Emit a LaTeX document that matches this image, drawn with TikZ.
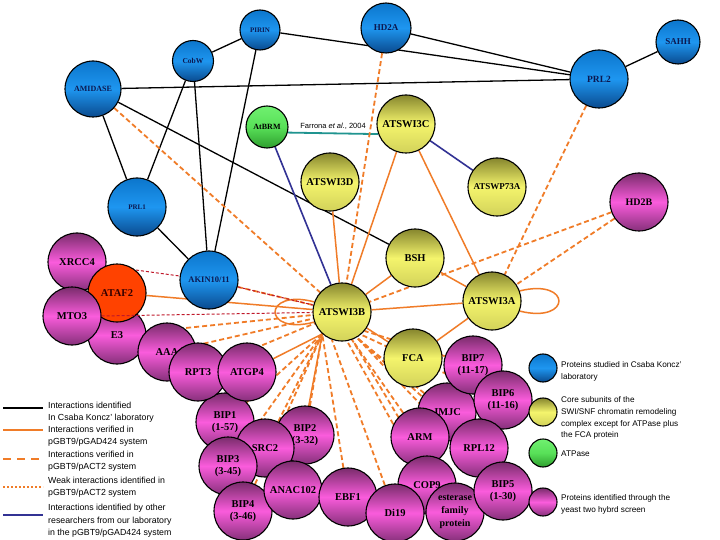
\documentclass[tikz,border=0pt]{standalone}
\usepackage{fontspec}
\setmainfont{Liberation Serif}
\setsansfont{Liberation Sans}
\usetikzlibrary{positioning}
\pgfdeclarelayer{bg}
\pgfsetlayers{bg,main}

\definecolor{btop}{HTML}{0C76CC}
\definecolor{bmid}{HTML}{1E96F0}
\definecolor{bbot}{HTML}{0A4A8E}
\definecolor{ytop}{HTML}{86862E}
\definecolor{ymid}{HTML}{F4F46C}
\definecolor{ybot}{HTML}{D2D25A}
\definecolor{ptop}{HTML}{7A2C6C}
\definecolor{pmid}{HTML}{FA5CDC}
\definecolor{pbot}{HTML}{86307A}
\definecolor{gtop}{HTML}{70F070}
\definecolor{gmid}{HTML}{58E058}
\definecolor{gbot}{HTML}{2E9E2E}
\definecolor{orng}{HTML}{F07C28}
\definecolor{redline}{HTML}{C0182A}
\definecolor{navyline}{HTML}{323294}
\definecolor{tealline}{HTML}{209490}
\definecolor{atafred}{HTML}{FF4200}
\definecolor{bluetext}{HTML}{0C1850}

\begin{document}
\begin{tikzpicture}[x=1pt,y=-1pt,
  prot/.style={circle,draw=black,line width=1.1pt,minimum size=58pt,inner sep=0pt,align=center,font=\bfseries\fontsize{10.5}{12.5}\selectfont},
  bnode/.style={prot,top color=btop,bottom color=bbot,middle color=bmid,text=bluetext},
  ynode/.style={prot,top color=ytop,bottom color=ybot,middle color=ymid},
  pnode/.style={prot,top color=ptop,bottom color=pbot,middle color=pmid},
  gnode/.style={prot,top color=gtop,bottom color=gbot,middle color=gmid},
  blk/.style={black,line width=1.3pt},
  osol/.style={orng,line width=1.5pt},
  odash/.style={orng,line width=1.8pt,dash pattern=on 5pt off 3pt},
  rdash/.style={redline,line width=1pt,dash pattern=on 3pt off 2pt},
  nline/.style={navyline,line width=1.6pt},
  tline/.style={tealline,line width=1.8pt},
  legtext/.style={font=\sffamily\fontsize{8.8}{12.4}\selectfont,align=left,anchor=west,inner sep=0pt},
  keytext/.style={legtext,font=\sffamily\fontsize{8.2}{11.8}\selectfont}]
\useasboundingbox (0,0) rectangle (720,540);

% blue proteins
\node[bnode,minimum size=40pt,font=\bfseries\fontsize{7}{8}\selectfont] (pirin) at (260,30) {PIRIN};
\node[bnode,minimum size=50pt,font=\bfseries\fontsize{9}{10}\selectfont] (hdtwoa) at (386,28) {HD2A};
\node[bnode,minimum size=44pt,font=\bfseries\fontsize{9}{10}\selectfont] (sahh) at (678,42) {SAHH};
\node[bnode,minimum size=41pt,font=\bfseries\fontsize{7.5}{8}\selectfont] (cobw) at (193,61) {CobW};
\node[bnode,font=\bfseries\fontsize{9.5}{10}\selectfont] (prltwo) at (599,79) {PRL2};
\node[bnode,minimum size=56pt,font=\bfseries\fontsize{8}{9}\selectfont] (amidase) at (93,89) {AMIDASE};
\node[bnode,font=\bfseries\fontsize{7}{8}\selectfont] (prlone) at (137,207) {PRL1};
\node[bnode,font=\bfseries\fontsize{8.5}{9}\selectfont] (akin) at (209,280) {AKIN10/11};

% atpase and swi/snf subunits
\node[gnode,minimum size=42pt,font=\bfseries\fontsize{8}{9}\selectfont] (atbrm) at (267,127) {AtBRM};
\node[ynode] (swithreec) at (406,124) {ATSWI3C};
\node[ynode] (swithreed) at (330,182) {ATSWI3D};
\node[ynode,font=\bfseries\fontsize{9}{10}\selectfont] (swpsev) at (497,187) {ATSWP73A};
\node[ynode] (bsh) at (415,258) {BSH};
\node[ynode] (swithreeb) at (342,312) {ATSWI3B};
\node[ynode] (swithreea) at (492,301) {ATSWI3A};
\node[ynode] (fca) at (413,358) {FCA};

% two hybrid proteins
\node[pnode,font=\bfseries\fontsize{10}{11}\selectfont] (hdtwob) at (639,202) {HD2B};
\node[pnode] (xrcc) at (77,262) {XRCC4};
\node[pnode] (ethree) at (117,335) {E3};
\node[prot,fill=atafred,text=black!80!red] (ataf) at (117,293) {ATAF2};
\node[pnode] (mto) at (72,316) {MTO3};
\node[pnode] (aaa) at (167,352) {AAA};
\node[pnode] (bipone) at (225,422) {BIP1\\(1-57)};
\node[pnode] (rpt) at (198,372) {RPT3};
\node[pnode] (atgp) at (247,372) {ATGP4};
\node[pnode] (biptwo) at (305,435) {BIP2\\(3-32)};
\node[pnode] (srctwo) at (265,448) {SRC2};
\node[pnode] (bipthree) at (228,466) {BIP3\\(3-45)};
\node[pnode] (bipfour) at (243,511) {BIP4\\(3-46)};
\node[pnode] (anac) at (293,490) {ANAC102};
\node[pnode] (ebf) at (348,497) {EBF1};
\node[pnode] (jmjc) at (447,412) {JMJC};
\node[pnode] (bipseven) at (473,365) {BIP7\\(11-17)};
\node[pnode] (bipsix) at (503,400) {BIP6\\(11-16)};
\node[pnode] (rpl) at (479,448) {RPL12};
\node[pnode] (arm) at (420,437) {ARM};
\node[pnode] (copnine) at (427,485) {COP9};
\node[pnode] (dinineteen) at (395,513) {Di19};
\node[pnode,font=\bfseries\fontsize{10}{13}\selectfont] (esterase) at (455,512) {esterase\\family\\protein};
\node[pnode] (bipfive) at (503,491) {BIP5\\(1-30)};

\draw[rdash] (mto.east) -- (swithreeb);

\begin{pgfonlayer}{bg}
\fill[white] (0,0) rectangle (720,540);
% black lines
\draw[blk] (pirin) -- (cobw);
\draw[blk] (pirin) -- (prltwo);
\draw[blk] (hdtwoa) -- (prltwo);
\draw[blk] (amidase) -- (prltwo);
\draw[blk] (sahh) -- (prltwo);
\draw[blk] (amidase) -- (prlone);
\draw[blk] (cobw) -- (prlone);
\draw[blk] (cobw) -- (akin);
\draw[blk] (pirin) -- (akin);
\draw[blk] (prlone) -- (akin);
\draw[blk] (amidase) -- (bsh);

% other labs
\draw[nline] (atbrm) -- (swithreeb);
\draw[nline] (swithreec) -- (swpsev);
\draw[tline] (atbrm.-15) -- node[above=-0.5pt,font=\sffamily\fontsize{7.5}{8}\selectfont,text=black] (farrona) {Farrona \textit{et al.}, 2004} (swithreec.200);

% pGBT9/pGAD424
\draw[osol] (swithreec) -- (swithreeb);
\draw[osol] (swithreec) -- (swithreea);
\draw[osol] (swithreed) -- (swithreeb);
\draw[osol] (swithreeb) -- (bsh);
\draw[osol] (swithreeb) -- (swithreea);
\draw[osol] (bsh) -- (swithreea);
\draw[osol] (swithreeb) -- (fca);
\draw[osol] (fca) -- (swithreea);
\draw[osol] (ataf) -- (swithreeb);
\draw[osol] (atgp) -- (swithreeb.228);
\draw[osol] (anac) -- (swithreeb.228);
\draw[osol] (swithreeb.160) .. controls (262,288) and (262,336) .. (swithreeb.200);
\draw[osol] (swithreea.20) .. controls (572,278) and (572,324) .. (swithreea.-20);

% pGBT9/pACT2
\draw[odash] (amidase) -- (swithreeb);
\draw[odash] (hdtwoa) -- (swithreeb);
\draw[odash] (prltwo) -- (swithreea);
\draw[odash] (hdtwob) -- (swithreea);
\draw[odash] (hdtwob) -- (swithreeb);
\draw[odash] (akin) -- (swithreeb);
\draw[odash] (ethree) -- (swithreeb);
\draw[odash] (aaa) -- (swithreeb);
\draw[odash] (rpt) -- (swithreeb);
\draw[odash] (bipone) -- (swithreeb.228);
\draw[odash] (srctwo) -- (swithreeb.228);
\draw[odash] (bipthree) -- (swithreeb.228);
\draw[odash] (biptwo) -- (swithreeb.228);
\draw[odash] (bipfour) -- (swithreeb.228);
\draw[odash] (ebf) -- (swithreeb.228);
\draw[odash] (dinineteen) -- (swithreeb.250);
\draw[odash] (copnine) -- (swithreeb.280);
\draw[odash] (arm) -- (swithreeb.290);
\draw[odash] (esterase) -- (swithreeb.290);
\draw[odash] (jmjc) -- (swithreeb.300);
\draw[odash] (rpl) -- (swithreeb.300);
\draw[odash] (bipfive) -- (swithreeb.300);
\draw[odash] (bipsix) -- (swithreeb.310);
\draw[odash] (bipseven) -- (swithreeb.320);

% weak
\draw[rdash] (xrcc) -- (akin);
\draw[rdash] (akin) -- (swithreeb);
\end{pgfonlayer}

% legend, lines
\draw[black,line width=2.6pt] (3,408) -- (43,408);
\draw[orng,line width=2.6pt] (3,430) -- (43,430);
\draw[orng,line width=2.6pt,dash pattern=on 8pt off 6pt] (3,459) -- (43,459);
\draw[orng,line width=2.6pt,dash pattern=on 2.4pt off 1.6pt] (3,487) -- (43,487);
\draw[navyline,line width=2.6pt] (3,515) -- (43,515);
\node[legtext] (legone) at (48,412.5) {Interactions identified\\In Csaba Koncz' laboratory};
\node[legtext] (legtwo) at (48,436.5) {Interactions verified in\\pGBT9/pGAD424 system};
\node[legtext] (legthree) at (48,461) {Interactions verified in\\pGBT9/pACT2 system};
\node[legtext] (legfour) at (48,487) {Weak interactions identified in\\pGBT9/pACT2 system};
\node[legtext] (legfive) at (48,521) {Interactions identified by other\\researchers from our laboratory\\in the pGBT9/pGAD424 system};

% legend, circles
\node[bnode,minimum size=28pt] (keyblue) at (543,368) {};
\node[ynode,minimum size=28pt] (keyyellow) at (543,412) {};
\node[gnode,minimum size=28pt] (keygreen) at (543,453) {};
\node[pnode,minimum size=28pt] (keypink) at (543,502) {};
\node[keytext] (legblue) at (561,371) {Proteins studied in Csaba Koncz'\\laboratory};
\node[keytext] (legyellow) at (561,418) {Core subunits of the\\SWI/SNF chromatin remodeling\\complex except for ATPase plus\\the FCA protein};
\node[keytext] (leggreen) at (561,454) {ATPase};
\node[keytext] (legpink) at (561,504.5) {Proteins identified through the\\yeast two hybrd screen};
\end{tikzpicture}
\end{document}
